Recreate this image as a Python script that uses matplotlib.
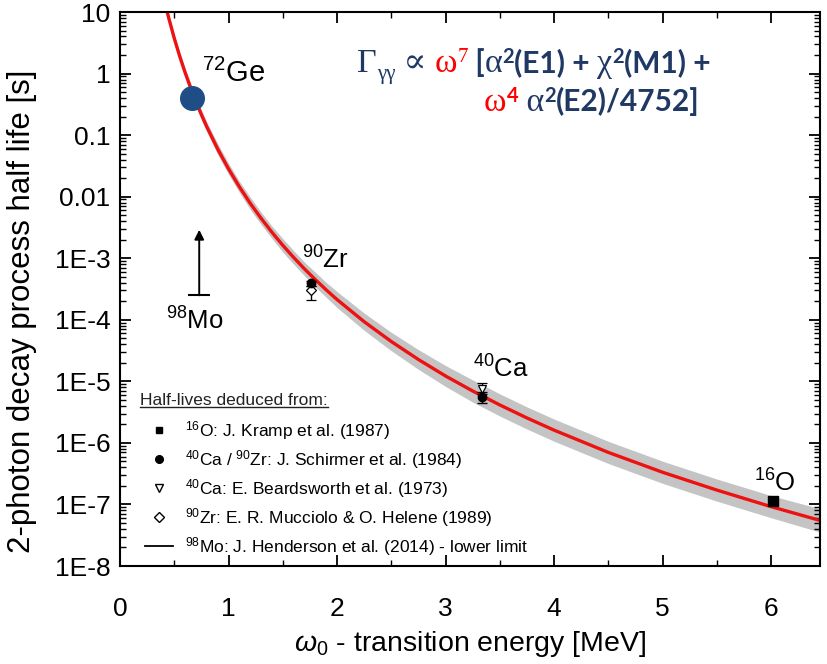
import matplotlib
matplotlib.use("Agg")
import matplotlib.pyplot as plt
from matplotlib.lines import Line2D
from matplotlib.ticker import MultipleLocator, FixedLocator, FixedFormatter, LogLocator, NullFormatter
from matplotlib.transforms import IdentityTransform

# ---- data -------------------------------------------------------------
# calculated two-photon half life (red line) and its uncertainty band
curve_energy = [0.43, 0.45, 0.5, 0.55, 0.6, 0.65, 0.7, 0.75, 0.8, 0.9, 1.0, 1.1, 1.2,
                1.3, 1.4, 1.5, 1.6, 1.7, 1.8, 1.9, 2.0, 2.25, 2.5, 2.75, 3.0, 3.25,
                3.5, 3.75, 4.0, 4.5, 5.0, 5.5, 6.0, 6.45]
curve_half_life = [10.8, 7.88, 3.74, 1.91, 1.035, 0.59, 0.35, 0.215, 0.136, 0.0594,
                   0.0283, 0.01445, 7.8e-3, 4.45e-3, 2.64e-3, 1.62e-3, 1.03e-3, 6.7e-4,
                   4.49e-4, 3.06e-4, 2.13e-4, 9.3e-5, 4.43e-5, 2.26e-5, 1.22e-5, 6.96e-6,
                   4.13e-6, 2.54e-6, 1.61e-6, 7.0e-7, 3.33e-7, 1.71e-7, 9.2e-8, 5.5e-8]
# half width of the grey band, in decades
band_dex = [0.06, 0.06, 0.06, 0.07, 0.07, 0.08, 0.08, 0.08, 0.08, 0.09, 0.09, 0.09, 0.10,
            0.10, 0.10, 0.11, 0.11, 0.11, 0.12, 0.12, 0.13, 0.14, 0.15, 0.16, 0.17, 0.18,
            0.18, 0.18, 0.18, 0.18, 0.18, 0.18, 0.18, 0.19]

# measured half lives: energy, value, lower, upper
kramp_E, kramp_t = [6.02], [1.15e-7]
schirmer_E = [1.76, 3.34]
schirmer_t = [4.0e-4, 5.6e-6]
schirmer_lo = [3.6e-4, 4.5e-6]
schirmer_hi = [4.3e-4, 6.3e-6]
beards_E, beards_t, beards_lo, beards_hi = [3.34], [7.6e-6], [6.8e-6], [9.5e-6]
mucc_E, mucc_t, mucc_lo, mucc_hi = [1.76], [3.1e-4], [2.1e-4], [3.5e-4]
mo_E, mo_limit, mo_arrow_top = 0.73, 2.5e-4, 2.9e-3
ge_E, ge_t = 0.66, 0.40

xticks = [0, 1, 2, 3, 4, 5, 6]
yticks = [1e-8, 1e-7, 1e-6, 1e-5, 1e-4, 1e-3, 1e-2, 1e-1, 1, 10]
ytick_labels = ["1E-8", "1E-7", "1E-6", "1E-5", "1E-4", "1E-3", "0.01", "0.1", "1", "10"]

legend_title = "Half-lives deduced from:"
legend_labels = [r"$^{16}$O: J. Kramp et al. (1987)",
                 r"$^{40}$Ca / $^{90}$Zr: J. Schirmer et al. (1984)",
                 r"$^{40}$Ca: E. Beardsworth et al. (1973)",
                 r"$^{90}$Zr: E. R. Mucciolo & O. Helene (1989)",
                 r"$^{98}$Mo: J. Henderson et al. (2014) - lower limit"]

# ---- style ------------------------------------------------------------
plt.rcParams["font.family"] = ["Liberation Sans", "DejaVu Sans"]
plt.rcParams["mathtext.fontset"] = "custom"
plt.rcParams["mathtext.rm"] = "Liberation Sans"
plt.rcParams["mathtext.it"] = "Liberation Sans:italic"
plt.rcParams["mathtext.bf"] = "Liberation Sans:bold"

W, H = 827, 664
fig = plt.figure(figsize=(W / 100, H / 100), dpi=100)
ax = fig.add_axes([120 / W, 1 - 566 / H, (820 - 120) / W, (566 - 12) / H])
ax.set_yscale("log")
ax.set_xlim(0, 6.45)
ax.set_ylim(1e-8, 10)

# band and curve
lo = [t / 10 ** d for t, d in zip(curve_half_life, band_dex)]
hi = [t * 10 ** d for t, d in zip(curve_half_life, band_dex)]
ax.fill_between(curve_energy, lo, hi, color="#c4c4c4", lw=0, zorder=1)
ax.plot(curve_energy, curve_half_life, color="#ee1111", lw=2.4, zorder=2)


def yerr(vals, los, his):
    return [[v - l for v, l in zip(vals, los)], [h - v for v, h in zip(vals, his)]]


eb = dict(color="k", ecolor="k", elinewidth=1.0, capsize=3.5, capthick=1.0, zorder=4)
ax.errorbar(mucc_E, mucc_t, yerr=yerr(mucc_t, mucc_lo, mucc_hi), fmt="D", ms=5.5,
            mfc="white", mec="k", mew=0.9, **eb)
ax.errorbar(beards_E, beards_t, yerr=yerr(beards_t, beards_lo, beards_hi), fmt="v", ms=6,
            mfc="white", mec="k", mew=0.9, **eb)
ax.errorbar(schirmer_E, schirmer_t, yerr=yerr(schirmer_t, schirmer_lo, schirmer_hi),
            fmt="o", ms=6, mfc="k", mec="k", **eb)
ax.plot(kramp_E, kramp_t, "s", color="k", ms=6.5, zorder=4)

# 98Mo lower limit
ax.hlines(mo_limit, mo_E - 0.1, mo_E + 0.1, color="k", lw=1.5, zorder=4)
ax.annotate("", xy=(mo_E, mo_arrow_top), xytext=(mo_E, mo_limit),
            arrowprops=dict(arrowstyle="-|>", color="k", lw=1.4, mutation_scale=14,
                            shrinkA=0, shrinkB=0), zorder=4)

# 72Ge
ax.plot([ge_E], [ge_t], "o", color="#1f4e87", ms=17, zorder=5)

# nucleus labels
ax.text(0.76, 0.73, r"$^{72}$Ge", fontsize=21, zorder=6)
ax.text(1.68, 6.9e-4, r"$^{90}$Zr", fontsize=18.5, zorder=6)
ax.text(0.42, 6.9e-5, r"$^{98}$Mo", fontsize=18.5, zorder=6)
ax.text(3.25, 1.16e-5, r"$^{40}$Ca", fontsize=18.5, zorder=6)
ax.text(5.84, 1.6e-7, r"$^{16}$O", fontsize=18.5, zorder=6)

# axes, ticks
ax.xaxis.set_major_locator(FixedLocator(xticks))
ax.xaxis.set_minor_locator(MultipleLocator(0.5))
ax.yaxis.set_major_locator(FixedLocator(yticks))
ax.yaxis.set_major_formatter(FixedFormatter(ytick_labels))
ax.yaxis.set_minor_locator(LogLocator(base=10, subs=range(2, 10), numticks=20))
ax.yaxis.set_minor_formatter(NullFormatter())
ax.tick_params(which="both", direction="in", top=True, right=True, colors="k")
ax.tick_params(which="major", length=8, width=1.3)
ax.tick_params(which="minor", length=4, width=1.0)
ax.tick_params(axis="y", labelsize=19, pad=7)
ax.tick_params(axis="x", labelsize=19, pad=22)
for sp in ax.spines.values():
    sp.set_linewidth(1.5)

ax.set_xlabel(r"$\omega_0$ - transition energy [MeV]", fontsize=20.5, labelpad=6)
ax.set_ylabel("2-photon decay process half life [s]", fontsize=22.5)
ax.yaxis.set_label_coords(-0.118, 0.46)

# legend
handles = [Line2D([], [], ls="none", marker="s", color="k", ms=5),
           Line2D([], [], ls="none", marker="o", color="k", ms=5.5),
           Line2D([], [], ls="none", marker="v", mfc="white", mec="k", ms=6),
           Line2D([], [], ls="none", marker="D", mfc="white", mec="k", ms=5),
           Line2D([], [], color="k", lw=1.3)]
leg = ax.legend(handles, legend_labels, loc="upper left", bbox_to_anchor=(0.036, 0.266),
                frameon=False, fontsize=12.5, handlelength=1.6, handletextpad=0.7,
                labelspacing=0.36, borderpad=0, borderaxespad=0)
leg.set_zorder(7)
head = ax.text(0.029, 0.2995, legend_title, transform=ax.transAxes, fontsize=12.5,
               color="#222222", va="center", ha="left", zorder=7)

# width formula
navy = "#1f3864"
red = "#ff0000"
serif_fam = ["Liberation Serif", "DejaVu Serif"]
sans_bold = ["Lato", "DejaVu Sans"]
greek = dict(fontsize=24.5, family=serif_fam)
greek_sub = dict(fontsize=15, family=serif_fam)
greek_sup = dict(fontsize=15, family=serif_fam)
bold = dict(fontsize=21.5, fontweight="bold", family=sans_bold)
sup = dict(fontsize=14.5, fontweight="bold", family=sans_bold)


def write_run(pieces, x0, base_y):
    anchor = None
    for s, color, style, rise in pieces:
        if anchor is None:
            xy, coords = (x0, base_y + rise), "figure pixels"
        else:
            xy, coords = (1, base_y + rise), (anchor, "figure pixels")
        anchor = ax.annotate(s, xy=xy, xycoords=coords, va="baseline", ha="left",
                             color=color, zorder=8, annotation_clip=False, **style)


write_run([("\u0393", navy, greek, 0),
           ("\u03b3\u03b3", navy, greek_sub, -7),
           (" \u221d ", navy, greek, 0),
           ("\u03c9", red, greek, 0),
           ("7", red, greek_sup, 10),
           (" [", navy, bold, 0),
           ("\u03b1", navy, greek, 0),
           ("2", navy, sup, 9),
           ("(E1) + ", navy, bold, 0),
           ("\u03c7", navy, greek, 0),
           ("2", navy, sup, 9),
           ("(M1) +", navy, bold, 0)], 357, H - 72)

write_run([("\u03c9", red, greek, 0),
           ("4", red, sup, 9),
           (" \u03b1", navy, greek, 0),
           ("2", navy, sup, 9),
           ("(E2)/4752]", navy, bold, 0)], 484, H - 111)

# underline the legend heading
fig.canvas.draw()
bb = head.get_window_extent()
fig.add_artist(Line2D([bb.x0, bb.x1], [bb.y0 + 1, bb.y0 + 1], transform=IdentityTransform(),
                      color="#222222", lw=1.0))

fig.savefig("out.png", dpi=100)
